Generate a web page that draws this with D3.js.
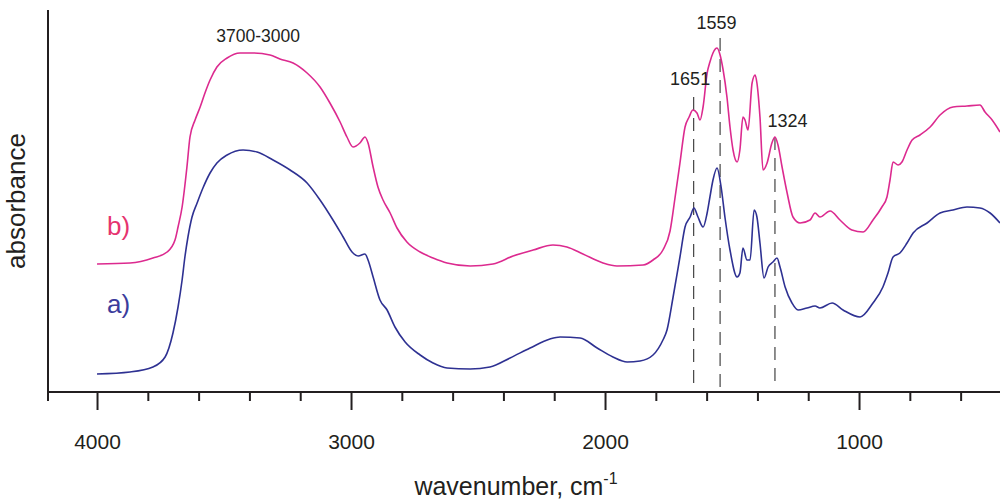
<!DOCTYPE html>
<html>
<head>
<meta charset="utf-8">
<script src="https://cdn.jsdelivr.net/npm/d3@7"></script>
<style>
  html, body { margin: 0; padding: 0; background: #fff; }
  svg { display: block; }
  text { font-family: "Liberation Sans", Arial, sans-serif; }
</style>
</head>
<body>
<svg id="chart" width="1000" height="502"></svg>
<script>
// wavenumber (cm-1) and absorbance (arbitrary units) for spectrum a)
const waveA = [4000,3870,3780,3732,3701,3681,3665,3654,3642,3626,3606,3583,3555,3528,3488,3425,3370,3307,3240,3173,3122,3071,3031,2996,2972,2945,2933,2913,2886,2858,2827,2787,2728,2677,2622,2531,2453,2374,2295,2217,2177,2098,2031,1969,1913,1862,1811,1772,1756,1732,1705,1685,1665,1650,1634,1614,1598,1587,1575,1559,1543,1528,1508,1480,1469,1457,1441,1429,1413,1402,1390,1374,1358,1339,1323,1311,1291,1264,1240,1205,1173,1154,1106,1063,996,945,906,886,866,839,811,787,732,681,630,575,524,484,445];
const absA  = [0.090,0.100,0.125,0.175,0.295,0.425,0.560,0.675,0.775,0.875,0.945,1.020,1.095,1.145,1.185,1.210,1.200,1.160,1.110,1.045,0.960,0.860,0.775,0.700,0.680,0.690,0.660,0.575,0.460,0.410,0.325,0.250,0.185,0.145,0.120,0.115,0.125,0.170,0.220,0.265,0.275,0.270,0.220,0.175,0.150,0.155,0.185,0.260,0.310,0.475,0.675,0.825,0.875,0.920,0.875,0.825,0.895,0.975,1.060,1.120,1.025,0.875,0.710,0.575,0.595,0.720,0.660,0.660,0.910,0.875,0.745,0.570,0.625,0.650,0.670,0.625,0.525,0.445,0.410,0.420,0.430,0.420,0.445,0.410,0.375,0.445,0.525,0.595,0.675,0.695,0.745,0.795,0.845,0.895,0.910,0.925,0.920,0.895,0.845];

// spectrum b)
const waveB = [4000,3870,3780,3724,3693,3681,3665,3646,3634,3614,3594,3575,3555,3528,3488,3437,3386,3319,3280,3228,3173,3122,3083,3043,3016,2992,2965,2945,2933,2913,2894,2874,2846,2819,2780,2728,2677,2622,2531,2441,2362,2283,2205,2150,2087,2008,1953,1850,1811,1772,1744,1724,1705,1685,1669,1654,1638,1626,1614,1598,1587,1575,1559,1547,1535,1520,1508,1496,1480,1469,1457,1449,1437,1421,1409,1402,1390,1378,1362,1343,1331,1319,1303,1283,1260,1232,1193,1173,1154,1114,1075,1028,984,945,910,890,878,866,846,831,811,791,760,720,681,630,575,524,504,476,445];
const absB  = [0.640,0.645,0.670,0.700,0.760,0.825,0.925,1.125,1.275,1.360,1.425,1.495,1.560,1.625,1.670,1.695,1.695,1.685,1.665,1.645,1.595,1.525,1.445,1.350,1.275,1.225,1.245,1.275,1.245,1.125,1.025,0.960,0.895,0.820,0.750,0.700,0.670,0.645,0.630,0.640,0.680,0.710,0.735,0.725,0.690,0.645,0.630,0.635,0.660,0.710,0.805,0.975,1.145,1.325,1.375,1.410,1.395,1.360,1.425,1.595,1.650,1.695,1.720,1.685,1.610,1.475,1.325,1.210,1.150,1.210,1.375,1.360,1.310,1.545,1.585,1.545,1.375,1.110,1.145,1.245,1.275,1.235,1.125,0.995,0.875,0.845,0.860,0.895,0.875,0.905,0.860,0.810,0.800,0.860,0.925,0.975,1.060,1.150,1.135,1.150,1.210,1.260,1.285,1.325,1.385,1.425,1.430,1.435,1.400,1.360,1.300];

const majorTicks = [4000, 3000, 2000, 1000];
const minorTicks = [3800, 3600, 3400, 3200, 2800, 2600, 2400, 2200, 1800, 1600, 1400, 1200, 800, 600];

// marker lines: wavenumber, top of the dashed line (absorbance units)
const markWave = [1651, 1547, 1331];
const markTop  = [1.475, 1.770, 1.275];

// peak annotations
const annText = ["3700-3000", "1559", "1651", "1324"];
const annWave = [3366, 1561, 1665, 1282];
const annAbs  = [1.752, 1.814, 1.535, 1.327];
const annSize = [17.5, 18, 18, 18];

// series labels
const seriesLabels = ["a)", "b)"];
const seriesLabelWave = [3961, 3961];
const seriesLabelAbs  = [0.395, 0.785];

const colorA = "#2e3192";
const colorB = "#dc2a8f";
const labelColorA = "#3b3c9c";
const labelColorB = "#e6336f";

const svg = d3.select("#chart");

const x = d3.scaleLinear().domain([4193, 445]).range([48, 1000]);
const y = d3.scaleLinear().domain([0, 1.91]).range([392, 10]);

const line = d3.line().x(d => x(d[0])).y(d => y(d[1])).curve(d3.curveMonotoneX);

const dataA = waveA.map((w, i) => [w, absA[i]]);
const dataB = waveB.map((w, i) => [w, absB[i]]);

// dashed marker lines
svg.append("g").selectAll("line").data(markWave).join("line")
  .attr("x1", d => x(d)).attr("x2", d => x(d))
  .attr("y1", (d, i) => y(markTop[i])).attr("y2", y(0) - 3)
  .attr("stroke", "#333").attr("stroke-width", 1.1)
  .attr("stroke-dasharray", "13,8");

// spectra
svg.append("path").datum(dataA).attr("d", line)
  .attr("fill", "none").attr("stroke", colorA).attr("stroke-width", 1.6)
  .attr("stroke-linejoin", "round");
svg.append("path").datum(dataB).attr("d", line)
  .attr("fill", "none").attr("stroke", colorB).attr("stroke-width", 1.6)
  .attr("stroke-linejoin", "round");

// x axis major ticks with labels
const axisMajor = d3.axisBottom(x).tickValues(majorTicks).tickSize(18).tickPadding(24)
  .tickFormat(d3.format("d"));
const gMajor = svg.append("g").attr("transform", `translate(0,${y(0)})`).call(axisMajor);
gMajor.select(".domain").remove();
gMajor.selectAll(".tick line").attr("stroke", "#231f20").attr("stroke-width", 2);
gMajor.selectAll(".tick text").attr("fill", "#231f20")
  .style("font-family", "'Liberation Sans', Arial, sans-serif").style("font-size", "21px");

// minor ticks
const axisMinor = d3.axisBottom(x).tickValues(minorTicks).tickSize(9).tickFormat("");
const gMinor = svg.append("g").attr("transform", `translate(0,${y(0)})`).call(axisMinor);
gMinor.select(".domain").remove();
gMinor.selectAll(".tick line").attr("stroke", "#231f20").attr("stroke-width", 2);

// axis lines
svg.append("line").attr("x1", x.range()[0]).attr("x2", x.range()[1])
  .attr("y1", y(0)).attr("y2", y(0)).attr("stroke", "#231f20").attr("stroke-width", 2);
svg.append("line").attr("x1", x.range()[0]).attr("x2", x.range()[0])
  .attr("y1", y.range()[1]).attr("y2", y(0) + 9).attr("stroke", "#231f20").attr("stroke-width", 2);

// annotations
svg.append("g").selectAll("text").data(annText).join("text")
  .attr("x", (d, i) => x(annWave[i])).attr("y", (d, i) => y(annAbs[i]))
  .attr("text-anchor", "middle").attr("fill", "#231f20")
  .style("font-size", (d, i) => annSize[i] + "px")
  .text(d => d);

// series labels
svg.append("g").selectAll("text").data(seriesLabels).join("text")
  .attr("x", (d, i) => x(seriesLabelWave[i])).attr("y", (d, i) => y(seriesLabelAbs[i]))
  .attr("fill", (d, i) => i === 0 ? labelColorA : labelColorB)
  .style("font-size", "26px")
  .text(d => d);

// axis titles
svg.append("text")
  .attr("transform", "translate(25,201) rotate(-90)")
  .attr("text-anchor", "middle").attr("fill", "#231f20")
  .style("font-size", "26px").text("absorbance");

const xt = svg.append("text").attr("x", 516).attr("y", 495)
  .attr("text-anchor", "middle").attr("fill", "#231f20").style("font-size", "25px");
xt.append("tspan").text("wavenumber, cm");
xt.append("tspan").attr("dy", -11).style("font-size", "16px").text("-1");
</script>
</body>
</html>
